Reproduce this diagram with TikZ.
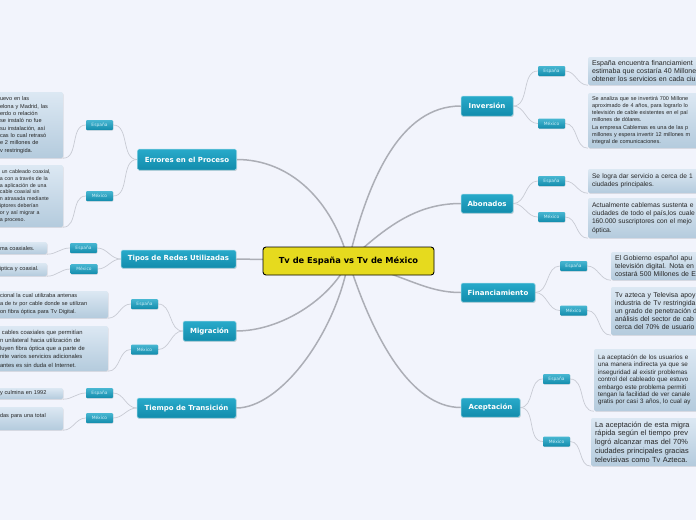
\documentclass[tikz,border=0pt]{standalone}
\usepackage{fontspec}
\setmainfont{Liberation Sans}
\newfontfamily\headf{DejaVu Sans}
\usetikzlibrary{shadows}
\definecolor{bgc}{RGB}{242,244,252}
\definecolor{tealA}{RGB}{40,170,202}
\definecolor{tealB}{RGB}{18,140,172}
\definecolor{tbA}{RGB}{220,232,243}
\definecolor{tbB}{RGB}{180,203,221}
\definecolor{cyel}{RGB}{230,218,30}
\definecolor{lnc}{RGB}{172,174,182}
\definecolor{lnt}{RGB}{200,203,212}
\definecolor{txt}{RGB}{38,38,38}
\definecolor{subtxt}{RGB}{205,238,247}
\pgfdeclarelayer{back}\pgfdeclarelayer{bg}\pgfsetlayers{back,bg,main}
\begin{document}
\begin{tikzpicture}[x=1pt,y=-1pt,
 branch/.style={rectangle, rounded corners=1.5pt, top color=tealA, bottom color=tealB, draw=white!55!tealA, line width=0.5pt, text=white, font=\headf\bfseries\fontsize{7}{8}\selectfont, inner sep=0pt, drop shadow={shadow xshift=0.6pt, shadow yshift=-0.9pt, opacity=0.3}},
 sub/.style={rectangle, rounded corners=1pt, top color=tealA!85!white, bottom color=tealB, text=subtxt, font=\headf\fontsize{4.4}{5}\selectfont, inner sep=0pt, minimum width=27pt, minimum height=10pt, drop shadow={shadow xshift=0.4pt, shadow yshift=-0.6pt, opacity=0.25}},
 tbox/.style={rectangle, rounded corners=2pt, top color=tbA, bottom color=tbB, text=txt, align=left, inner xsep=4pt, inner ysep=0pt, drop shadow={shadow xshift=0.6pt, shadow yshift=-0.9pt, opacity=0.2}},
 hub/.style={rectangle, rounded corners=3pt, fill=cyel, draw=black, line width=0.9pt, font=\headf\bfseries\fontsize{8.3}{9}\selectfont, inner sep=0pt, minimum width=171pt, minimum height=28pt},
 conn/.style={draw=lnc, line width=1.5pt},
 twig/.style={draw=lnt, line width=0.7pt}
]
\useasboundingbox (0,0) rectangle (696,520);
\begin{pgfonlayer}{back}
\fill[bgc] (0,0) rectangle (696,520);
\end{pgfonlayer}

% hub
\node[hub] (hub) at (348.5,261) {Tv de España vs Tv de México};

% branches
\node[branch, minimum width=99pt, minimum height=21pt] (err) at (187,159.5) {Errores en el Proceso};
\node[branch, minimum width=115pt, minimum height=18pt] (tip) at (178.5,259) {Tipos de Redes Utilizadas};
\node[branch, minimum width=53pt, minimum height=20pt] (mig) at (209.5,331) {Migración};
\node[branch, minimum width=99pt, minimum height=20pt] (tie) at (186.5,408) {Tiempo de Transición};
\node[branch, minimum width=52pt, minimum height=20pt] (inv) at (487,106) {Inversión};
\node[branch, minimum width=52pt, minimum height=19pt] (abo) at (487,203.5) {Abonados};
\node[branch, minimum width=74pt, minimum height=19pt] (fin) at (498,292.5) {Financiamiento};
\node[branch, minimum width=59pt, minimum height=19pt] (ace) at (490.5,407.5) {Aceptación};

% sub labels
\node[sub] (errE) at (99.5,125) {España};
\node[sub] (errM) at (99.5,196) {México};
\node[sub] (tipE) at (83.5,248) {España};
\node[sub] (tipM) at (84,269) {México};
\node[sub] (migE) at (144.5,304) {España};
\node[sub] (migM) at (144.5,349.5) {México};
\node[sub] (tieE) at (99.5,393) {España};
\node[sub] (tieM) at (99.5,418) {México};
\node[sub] (invE) at (551.5,71) {España};
\node[sub] (invM) at (551.5,123.5) {México};
\node[sub] (aboE) at (551.5,181) {España};
\node[sub] (aboM) at (551.5,217) {México};
\node[sub] (finE) at (573.5,266) {España};
\node[sub] (finM) at (573.5,310.5) {México};
\node[sub] (aceE) at (556.5,379) {España};
\node[sub] (aceM) at (556.5,441.5) {México};

% text boxes - left
\node[tbox, minimum width=67pt, minimum height=66pt, text width=59pt, font=\fontsize{5.6}{7.3}\selectfont] (errET) at (29.5,125) {uevo en las\\elona y Madrid, las\\erdo o relación\\se instaló no fue\\su instalación, así\\cas lo cual retrasó\\e 2 millones de\\v restringida.};
\node[tbox, minimum width=67pt, minimum height=62pt, text width=59pt, font=\fontsize{5.3}{6.9}\selectfont] (errMT) at (29.5,196) {\ un cableado coaxial,\\a con a través de la\\a aplicación de una\\cable coaxial sin\\n atrasada mediante\\iptores deberían\\or y así migrar a\\a proceso.};
\node[tbox, minimum width=51pt, minimum height=12pt, text width=43pt, font=\fontsize{5.6}{7}\selectfont] (tipET) at (21.5,248) {ma coaxiales.};
\node[tbox, minimum width=51pt, minimum height=13pt, text width=43pt, font=\fontsize{5.6}{7}\selectfont] (tipMT) at (21.5,269.5) {iptica y coaxial.};
\node[tbox, minimum width=112pt, minimum height=27pt, text width=104pt, font=\fontsize{5.6}{8}\selectfont] (migET) at (52,304.5) {cional la cual utilizaba antenas\\a de tv por cable donde se utilizan\\on fibra óptica para Tv Digital.};
\node[tbox, minimum width=112pt, minimum height=45pt, text width=104pt, font=\fontsize{5.8}{8.3}\selectfont] (migMT) at (52,348.5) {\ cables coaxiales que permitían\\n unilateral hacia utilización de\\luyen fibra óptica que a parte de\\nite varios servicios adicionales\\antes es sin duda el Internet.};
\node[tbox, minimum width=67pt, minimum height=11pt, text width=59pt, font=\fontsize{5.6}{7}\selectfont] (tieET) at (29.5,393.5) {y culmina en 1992};
\node[tbox, minimum width=67pt, minimum height=23pt, text width=59pt, font=\fontsize{5.6}{7}\selectfont] (tieMT) at (29.5,418.5) {das para una total\\[-1pt]\mbox{}};

% text boxes - right
\node[tbox, minimum width=132pt, minimum height=28pt, text width=124pt, font=\fontsize{7}{7.6}\selectfont] (invET) at (654,71) {España encuentra financiamient\\estimaba que costaría 40 Millone\\obtener los servicios en cada ciu};
\node[tbox, minimum width=132pt, minimum height=55pt, text width=124pt, font=\fontsize{5.5}{7.1}\selectfont] (invMT) at (654,120.5) {Se analiza que se invertirá 700 Millone\\aproximado de 4 años, para lograrlo lo\\televisión de cable existentes en el paí\\millones de dólares.\\La empresa Cablemas es una de las p\\millones y espera invertir 12 millones m\\integral de comunicaciones.};
\node[tbox, minimum width=132pt, minimum height=24pt, text width=124pt, font=\fontsize{6.6}{8.2}\selectfont] (aboET) at (654,181) {Se logra dar servicio a cerca de 1\\ciudades principales.};
\node[tbox, minimum width=132pt, minimum height=40pt, text width=124pt, font=\fontsize{6.7}{8.2}\selectfont] (aboMT) at (654,218) {Actualmente cablemas sustenta e\\ciudades de todo el país,los cuale\\160.000 suscriptores con el mejo\\óptica.};
\node[tbox, minimum width=109pt, minimum height=28pt, text width=101pt, font=\fontsize{6.9}{7.6}\selectfont] (finET) at (665.5,266) {El Gobierno español apu\\televisión digital. Nota en -\\costará 500 Millones de E};
\node[tbox, minimum width=109pt, minimum height=48pt, text width=101pt, font=\fontsize{6.9}{8}\selectfont] (finMT) at (665.5,311) {Tv azteca y Televisa apoy\\industria de Tv restringida\\un grado de penetración d\\análisis del sector de cab\\cerca del 70\% de usuario};
\node[tbox, minimum width=126pt, minimum height=62pt, text width=118pt, font=\fontsize{6.3}{7.4}\selectfont] (aceET) at (657,380) {La aceptación de los usuarios e\\una manera indirecta ya que se\\inseguridad al existir problemas\\control del cableado que estuvo\\embargo este problema permiti\\tengan la facilidad de ver canale\\gratis por casi 3 años, lo cual ay};
\node[tbox, minimum width=129pt, minimum height=48pt, text width=121pt, font=\fontsize{7.4}{8.7}\selectfont] (aceMT) at (655.5,442) {La aceptación de esta migra\\rápida según el tiempo prev\\logró alcanzar mas del 70\%\\ciudades principales gracias\\televisivas como Tv Azteca.};

\begin{pgfonlayer}{bg}
% hub connectors
\draw[conn] (hub.center) .. controls (332,200) and (290,159.5) .. (err.east);
\draw[conn] (hub.center) -- (tip.east);
\draw[conn] (hub.center) .. controls (330,300) and (280,331) .. (mig.east);
\draw[conn] (hub.center) .. controls (335,335) and (280,408) .. (tie.east);
\draw[conn] (hub.center) .. controls (368,180) and (400,106) .. (inv.west);
\draw[conn] (hub.center) .. controls (385,228) and (415,203.5) .. (abo.west);
\draw[conn] (hub.center) .. controls (405,275) and (425,292.5) .. (fin.west);
\draw[conn] (hub.center) .. controls (372,335) and (410,407.5) .. (ace.west);
% left twigs
\draw[twig] (err.west) to[out=180,in=0] (errE.east);
\draw[twig] (err.west) to[out=180,in=0] (errM.east);
\draw[twig] (errE.west) to[out=180,in=0] (errET.south east);
\draw[twig] (errM.west) to[out=180,in=0] (errMT.south east);
\draw[twig] (tip.west) to[out=180,in=0] (tipE.east);
\draw[twig] (tip.west) to[out=180,in=0] (tipM.east);
\draw[twig] (tipE.west) to[out=180,in=0] (tipET.south east);
\draw[twig] (tipM.west) to[out=180,in=0] (tipMT.south east);
\draw[twig] (mig.west) to[out=180,in=0] (migE.east);
\draw[twig] (mig.west) to[out=180,in=0] (migM.east);
\draw[twig] (migE.west) to[out=180,in=0] (migET.south east);
\draw[twig] (migM.west) to[out=180,in=0] (migMT.south east);
\draw[twig] (tie.west) to[out=180,in=0] (tieE.east);
\draw[twig] (tie.west) to[out=180,in=0] (tieM.east);
\draw[twig] (tieE.west) to[out=180,in=0] (tieET.south east);
\draw[twig] (tieM.west) to[out=180,in=0] (tieMT.south east);
% right twigs
\draw[twig] (inv.east) to[out=0,in=180] (invE.west);
\draw[twig] (inv.east) to[out=0,in=180] (invM.west);
\draw[twig] (invE.east) to[out=0,in=180] (invET.south west);
\draw[twig] (invM.east) to[out=0,in=180] (invMT.south west);
\draw[twig] (abo.east) to[out=0,in=180] (aboE.west);
\draw[twig] (abo.east) to[out=0,in=180] (aboM.west);
\draw[twig] (aboE.east) to[out=0,in=180] (aboET.south west);
\draw[twig] (aboM.east) to[out=0,in=180] (aboMT.south west);
\draw[twig] (fin.east) to[out=0,in=180] (finE.west);
\draw[twig] (fin.east) to[out=0,in=180] (finM.west);
\draw[twig] (finE.east) to[out=0,in=180] (finET.south west);
\draw[twig] (finM.east) to[out=0,in=180] (finMT.south west);
\draw[twig] (ace.east) to[out=0,in=180] (aceE.west);
\draw[twig] (ace.east) to[out=0,in=180] (aceM.west);
\draw[twig] (aceE.east) to[out=0,in=180] (aceET.south west);
\draw[twig] (aceM.east) to[out=0,in=180] (aceMT.south west);
\end{pgfonlayer}
\end{tikzpicture}
\end{document}
